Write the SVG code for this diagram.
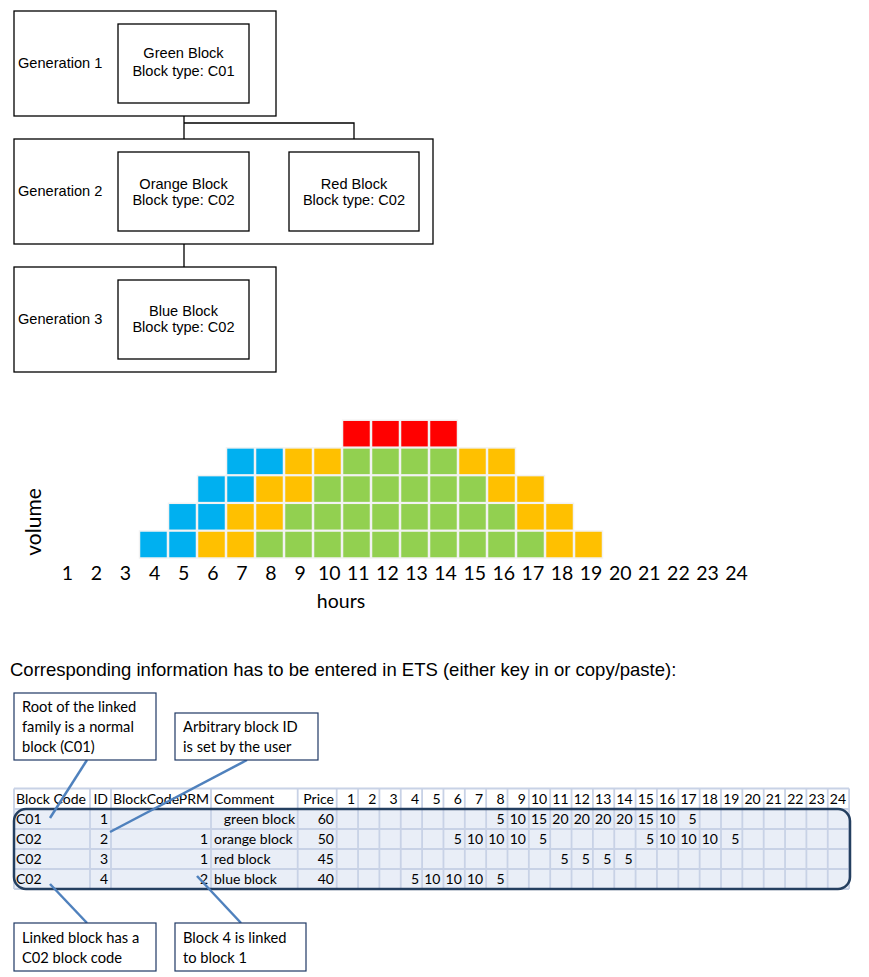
<svg xmlns="http://www.w3.org/2000/svg" width="869" height="977" viewBox="0 0 869 977">
<style>
.box{fill:#fff;stroke:#000;stroke-width:1.3}
.t{font-family:"Liberation Sans",Arial,sans-serif;font-size:14.6px;fill:#000}
.c{text-anchor:middle}
.ln{stroke:#000;stroke-width:1.3;fill:none}
.sq{stroke:#f2f2f2;stroke-width:1.5}
.B{fill:#00b0f0}.O{fill:#ffc000}.G{fill:#92d050}.R{fill:#ff0000}
.ax{font-family:Lato,"Noto Sans",sans-serif;font-size:19.5px;fill:#000;text-anchor:middle}
.cal{fill:#fff;stroke:#1f3864;stroke-width:1.2}
.ct{font-family:Lato,"Noto Sans",sans-serif;font-size:14.7px;fill:#000}
.cl{stroke:#4f81bd;stroke-width:2.5;fill:none}
.tb{font-family:Lato,"Noto Sans",sans-serif;font-size:14px;fill:#000}
.r{text-anchor:end}
.gl{stroke:#c8d2e6;stroke-width:1.8}
</style>
<rect width="869" height="977" fill="#fff"/>
<g id="connectors">
<path class="ln" d="M184,103V152M184,123H354V152M184,231V280"/>
</g>
<g id="gen1">
<rect class="box" x="14" y="11" width="262" height="105"/>
<text class="t" x="18" y="67.5">Generation 1</text>
</g>
<g id="green-block">
<rect class="box" x="118" y="24" width="131" height="79"/>
<text class="t c" x="183.5" y="58.3">Green Block</text>
<text class="t c" x="183.5" y="76">Block type: C01</text>
</g>
<g id="gen2">
<rect class="box" x="14" y="139" width="419" height="105"/>
<text class="t" x="18" y="196">Generation 2</text>
</g>
<g id="orange-block">
<rect class="box" x="118" y="152" width="131" height="79"/>
<text class="t c" x="183.5" y="188.5">Orange Block</text>
<text class="t c" x="183.5" y="204.5">Block type: C02</text>
</g>
<g id="red-block">
<rect class="box" x="289" y="152" width="130" height="79"/>
<text class="t c" x="354" y="188.5">Red Block</text>
<text class="t c" x="354" y="204.5">Block type: C02</text>
</g>
<g id="gen3">
<rect class="box" x="14" y="267" width="262" height="105"/>
<text class="t" x="18" y="323.7">Generation 3</text>
</g>
<g id="blue-block">
<rect class="box" x="118" y="280" width="131" height="79"/>
<text class="t c" x="183.5" y="316">Blue Block</text>
<text class="t c" x="183.5" y="332.3">Block type: C02</text>
</g>
<g id="chart">
<rect class="sq B" x="139.5" y="531" width="28" height="27"/>
<rect class="sq B" x="168.5" y="531" width="28" height="27"/>
<rect class="sq B" x="168.5" y="503.3" width="28" height="27"/>
<rect class="sq O" x="197.5" y="531" width="28" height="27"/>
<rect class="sq B" x="197.5" y="503.3" width="28" height="27"/>
<rect class="sq B" x="197.5" y="475.6" width="28" height="27"/>
<rect class="sq O" x="226.5" y="531" width="28" height="27"/>
<rect class="sq O" x="226.5" y="503.3" width="28" height="27"/>
<rect class="sq B" x="226.5" y="475.6" width="28" height="27"/>
<rect class="sq B" x="226.5" y="447.9" width="28" height="27"/>
<rect class="sq G" x="255.5" y="531" width="28" height="27"/>
<rect class="sq O" x="255.5" y="503.3" width="28" height="27"/>
<rect class="sq O" x="255.5" y="475.6" width="28" height="27"/>
<rect class="sq B" x="255.5" y="447.9" width="28" height="27"/>
<rect class="sq G" x="284.5" y="531" width="28" height="27"/>
<rect class="sq G" x="284.5" y="503.3" width="28" height="27"/>
<rect class="sq O" x="284.5" y="475.6" width="28" height="27"/>
<rect class="sq O" x="284.5" y="447.9" width="28" height="27"/>
<rect class="sq G" x="313.5" y="531" width="28" height="27"/>
<rect class="sq G" x="313.5" y="503.3" width="28" height="27"/>
<rect class="sq G" x="313.5" y="475.6" width="28" height="27"/>
<rect class="sq O" x="313.5" y="447.9" width="28" height="27"/>
<rect class="sq G" x="342.5" y="531" width="28" height="27"/>
<rect class="sq G" x="342.5" y="503.3" width="28" height="27"/>
<rect class="sq G" x="342.5" y="475.6" width="28" height="27"/>
<rect class="sq G" x="342.5" y="447.9" width="28" height="27"/>
<rect class="sq R" x="342.5" y="420.2" width="28" height="27"/>
<rect class="sq G" x="371.5" y="531" width="28" height="27"/>
<rect class="sq G" x="371.5" y="503.3" width="28" height="27"/>
<rect class="sq G" x="371.5" y="475.6" width="28" height="27"/>
<rect class="sq G" x="371.5" y="447.9" width="28" height="27"/>
<rect class="sq R" x="371.5" y="420.2" width="28" height="27"/>
<rect class="sq G" x="400.5" y="531" width="28" height="27"/>
<rect class="sq G" x="400.5" y="503.3" width="28" height="27"/>
<rect class="sq G" x="400.5" y="475.6" width="28" height="27"/>
<rect class="sq G" x="400.5" y="447.9" width="28" height="27"/>
<rect class="sq R" x="400.5" y="420.2" width="28" height="27"/>
<rect class="sq G" x="429.5" y="531" width="28" height="27"/>
<rect class="sq G" x="429.5" y="503.3" width="28" height="27"/>
<rect class="sq G" x="429.5" y="475.6" width="28" height="27"/>
<rect class="sq G" x="429.5" y="447.9" width="28" height="27"/>
<rect class="sq R" x="429.5" y="420.2" width="28" height="27"/>
<rect class="sq G" x="458.5" y="531" width="28" height="27"/>
<rect class="sq G" x="458.5" y="503.3" width="28" height="27"/>
<rect class="sq G" x="458.5" y="475.6" width="28" height="27"/>
<rect class="sq O" x="458.5" y="447.9" width="28" height="27"/>
<rect class="sq G" x="487.5" y="531" width="28" height="27"/>
<rect class="sq G" x="487.5" y="503.3" width="28" height="27"/>
<rect class="sq O" x="487.5" y="475.6" width="28" height="27"/>
<rect class="sq O" x="487.5" y="447.9" width="28" height="27"/>
<rect class="sq G" x="516.5" y="531" width="28" height="27"/>
<rect class="sq O" x="516.5" y="503.3" width="28" height="27"/>
<rect class="sq O" x="516.5" y="475.6" width="28" height="27"/>
<rect class="sq O" x="545.5" y="531" width="28" height="27"/>
<rect class="sq O" x="545.5" y="503.3" width="28" height="27"/>
<rect class="sq O" x="574.5" y="531" width="28" height="27"/>
<g class="ax">
<text x="67.3" y="580">1</text><text x="96.4" y="580">2</text><text x="125.5" y="580">3</text><text x="154.6" y="580">4</text>
<text x="183.7" y="580">5</text><text x="212.8" y="580">6</text><text x="241.9" y="580">7</text><text x="271" y="580">8</text>
<text x="300.1" y="580">9</text><text x="329.2" y="580">10</text><text x="358.3" y="580">11</text><text x="387.4" y="580">12</text>
<text x="416.5" y="580">13</text><text x="445.6" y="580">14</text><text x="474.7" y="580">15</text><text x="503.8" y="580">16</text>
<text x="532.9" y="580">17</text><text x="562" y="580">18</text><text x="591.1" y="580">19</text><text x="620.2" y="580">20</text>
<text x="649.3" y="580">21</text><text x="678.4" y="580">22</text><text x="707.5" y="580">23</text><text x="736.6" y="580">24</text>
</g>
<text class="ax" x="341" y="608">hours</text>
<text class="ax" style="font-size:21px" transform="translate(41,522) rotate(-90)">volume</text>
</g>
<text class="t" x="10" y="676" style="font-size:18.5px">Corresponding information has to be entered in ETS (either key in or copy/paste):</text>
<g id="table">
<rect x="14" y="788.5" width="835" height="20.5" fill="#fff"/>
<rect x="14" y="809" width="835" height="80" fill="#e9eef7"/>
<g class="gl">
<path d="M14,788.5H849M14,809H849M14,829H849M14,849H849M14,869H849M14,889H849"/>
<path d="M14,788.5V889M90,788.5V889M111,788.5V889M211,788.5V889M297.7,788.5V889M336.7,788.5V889"/>
<path d="M358.05,788.5V889M379.4,788.5V889M400.75,788.5V889M422.1,788.5V889M443.45,788.5V889M464.8,788.5V889M486.15,788.5V889M507.5,788.5V889M528.85,788.5V889M550.2,788.5V889M571.55,788.5V889M592.9,788.5V889M614.25,788.5V889M635.6,788.5V889M656.95,788.5V889M678.3,788.5V889M699.65,788.5V889M721,788.5V889M742.35,788.5V889M763.7,788.5V889M785.05,788.5V889M806.4,788.5V889M827.75,788.5V889M849.1,788.5V889"/>
</g>
<g class="tb">
<text x="16" y="804">Block Code</text>
<text x="108" y="804" class="r">ID</text>
<text x="113" y="804">BlockCodePRM</text>
<text x="214" y="804">Comment</text>
<text x="334" y="804" class="r">Price</text>
<g class="r">
<text x="355" y="804">1</text><text x="376.4" y="804">2</text><text x="397.7" y="804">3</text><text x="419.1" y="804">4</text>
<text x="440.5" y="804">5</text><text x="461.8" y="804">6</text><text x="483.2" y="804">7</text><text x="504.5" y="804">8</text>
<text x="525.9" y="804">9</text><text x="547.2" y="804">10</text><text x="568.6" y="804">11</text><text x="589.9" y="804">12</text>
<text x="611.3" y="804">13</text><text x="632.6" y="804">14</text><text x="654" y="804">15</text><text x="675.3" y="804">16</text>
<text x="696.7" y="804">17</text><text x="718" y="804">18</text><text x="739.4" y="804">19</text><text x="760.7" y="804">20</text>
<text x="782" y="804">21</text><text x="803.4" y="804">22</text><text x="824.8" y="804">23</text><text x="846.1" y="804">24</text>
</g>
<text x="16" y="824">C01</text>
<text x="108" y="824" class="r">1</text>
<text x="295" y="824" class="r">green block</text>
<text x="334" y="824" class="r">60</text>
<g class="r">
<text x="504.5" y="824">5</text><text x="525.9" y="824">10</text><text x="547.2" y="824">15</text><text x="568.6" y="824">20</text>
<text x="589.9" y="824">20</text><text x="611.3" y="824">20</text><text x="632.6" y="824">20</text><text x="654" y="824">15</text>
<text x="675.3" y="824">10</text><text x="696.7" y="824">5</text>
</g>
<text x="16" y="844">C02</text>
<text x="108" y="844" class="r">2</text>
<text x="208" y="844" class="r">1</text>
<text x="214" y="844">orange block</text>
<text x="334" y="844" class="r">50</text>
<g class="r">
<text x="461.8" y="844">5</text><text x="483.2" y="844">10</text><text x="504.5" y="844">10</text><text x="525.9" y="844">10</text>
<text x="547.2" y="844">5</text><text x="654" y="844">5</text><text x="675.3" y="844">10</text><text x="696.7" y="844">10</text>
<text x="718" y="844">10</text><text x="739.4" y="844">5</text>
</g>
<text x="16" y="864">C02</text>
<text x="108" y="864" class="r">3</text>
<text x="208" y="864" class="r">1</text>
<text x="214" y="864">red block</text>
<text x="334" y="864" class="r">45</text>
<g class="r">
<text x="568.6" y="864">5</text><text x="589.9" y="864">5</text><text x="611.3" y="864">5</text><text x="632.6" y="864">5</text>
</g>
<text x="16" y="884">C02</text>
<text x="108" y="884" class="r">4</text>
<text x="208" y="884" class="r">2</text>
<text x="214" y="884">blue block</text>
<text x="334" y="884" class="r">40</text>
<g class="r">
<text x="419.1" y="884">5</text><text x="440.5" y="884">10</text><text x="461.8" y="884">10</text><text x="483.2" y="884">10</text>
<text x="504.5" y="884">5</text>
</g>
</g>
<rect x="14" y="809" width="836" height="80" rx="12" fill="none" stroke="#243f60" stroke-width="2.5"/>
</g>
<g id="callout-connectors">
<path class="cl" d="M87,760L50,818"/>
<path class="cl" d="M247,760L110,832"/>
<path class="cl" d="M87,923L50,884"/>
<path class="cl" d="M241,923L197,876"/>
</g>
<g id="callout-root">
<rect class="cal" x="14" y="693" width="142" height="67"/>
<text class="ct" x="22" y="712">Root of the linked</text>
<text class="ct" x="22" y="732">family is a normal</text>
<text class="ct" x="22" y="752">block (C01)</text>
</g>
<g id="callout-id">
<rect class="cal" x="175" y="713" width="143" height="47"/>
<text class="ct" x="183" y="732">Arbitrary block ID</text>
<text class="ct" x="183" y="752">is set by the user</text>
</g>
<g id="callout-linked">
<rect class="cal" x="14" y="923" width="142" height="48"/>
<text class="ct" x="22" y="943">Linked block has a</text>
<text class="ct" x="22" y="963">C02 block code</text>
</g>
<g id="callout-block4">
<rect class="cal" x="175" y="923" width="131" height="48"/>
<text class="ct" x="183" y="943">Block 4 is linked</text>
<text class="ct" x="183" y="963">to block 1</text>
</g>
</svg>
